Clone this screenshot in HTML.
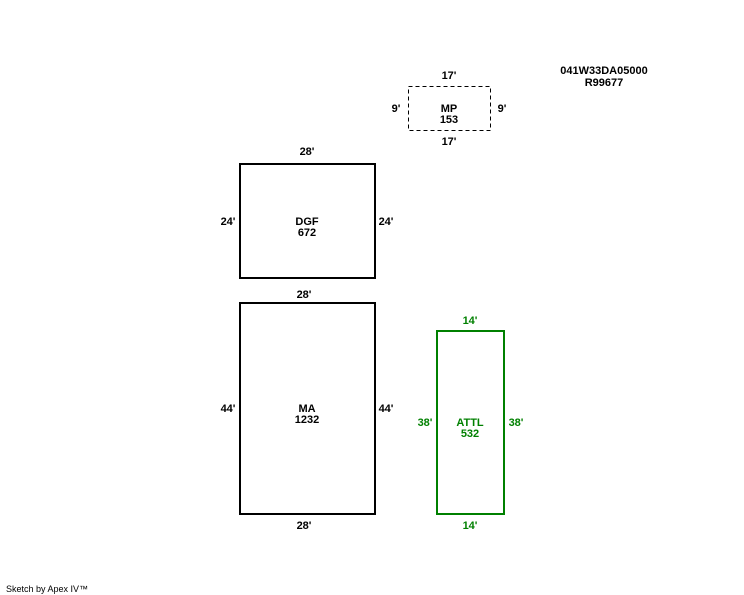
<!DOCTYPE html>
<html><head><style>body{margin:0;background:#fff}svg{display:block}text{font-family:"Liberation Sans",Arial,sans-serif;font-size:11px;font-weight:bold;text-anchor:middle}</style></head>
<body>
<svg width="744" height="595" xmlns="http://www.w3.org/2000/svg">
<rect x="408.5" y="86.5" width="82" height="44" fill="none" stroke="#000" stroke-width="1" stroke-dasharray="4,3"/>
<text x="449" y="79">17'</text><text x="449" y="145">17'</text>
<text x="396" y="112">9'</text><text x="502" y="112">9'</text>
<text x="449" y="112">MP</text><text x="449" y="123">153</text>
<text x="604" y="74">041W33DA05000</text><text x="604" y="86">R99677</text>
<rect x="240" y="164" width="135" height="114" fill="none" stroke="#000" stroke-width="2"/>
<text x="307" y="155">28'</text><text x="228" y="225">24'</text><text x="386" y="225">24'</text>
<text x="307" y="225">DGF</text><text x="307" y="236">672</text>
<rect x="240" y="303" width="135" height="211" fill="none" stroke="#000" stroke-width="2"/>
<text x="304" y="298">28'</text><text x="304" y="529">28'</text>
<text x="228" y="412">44'</text><text x="386" y="412">44'</text>
<text x="307" y="412">MA</text><text x="307" y="423">1232</text>
<g fill="#008000">
<rect x="437" y="331" width="67" height="183" fill="none" stroke="#008000" stroke-width="2"/>
<text x="470" y="324">14'</text><text x="470" y="529">14'</text>
<text x="425" y="426">38'</text><text x="516" y="426">38'</text>
<text x="470" y="426">ATTL</text><text x="470" y="437">532</text>
</g>
<text x="6" y="592" style="text-anchor:start;font-weight:normal;font-size:9px">Sketch by Apex IV™</text>
</svg>
</body></html>
